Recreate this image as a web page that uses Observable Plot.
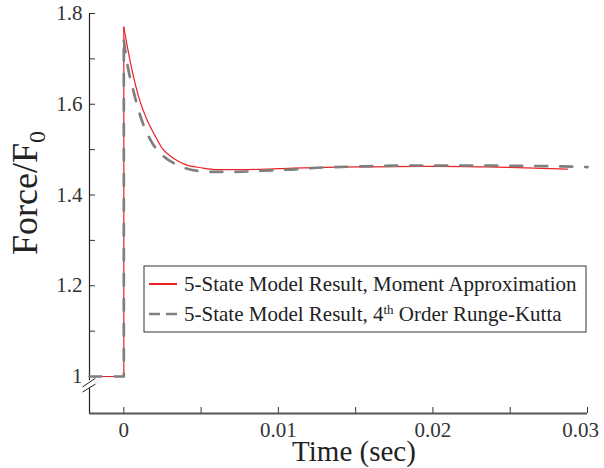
<!DOCTYPE html>
<html><head><meta charset="utf-8">
<script src="https://cdn.jsdelivr.net/npm/d3@7"></script>
<script src="https://cdn.jsdelivr.net/npm/@observablehq/plot@0.6"></script>
<style>body{margin:0;background:#fff;}</style>
</head><body><div id="chart"></div>
<script>
// ---- data ----
const stepT = [-0.00222, 0, 0];
const redStepV = [1, 1, 1.770];
const grayStepV = [1, 1, 1.741];
const redT = [0, 0.0005, 0.001, 0.0015, 0.002, 0.0025, 0.003, 0.0035, 0.004, 0.005, 0.006, 0.008, 0.010, 0.013, 0.016, 0.020, 0.023, 0.026, 0.0287];
const redV = [1.770, 1.680, 1.612, 1.566, 1.532, 1.502, 1.486, 1.475, 1.467, 1.460, 1.456, 1.456, 1.458, 1.461, 1.462, 1.463, 1.462, 1.460, 1.457];
const grayT = [0, 0.00022, 0.00061, 0.00108, 0.00173, 0.00259, 0.0033, 0.0041, 0.0056, 0.0073, 0.0089, 0.0106, 0.0121, 0.0153, 0.0186, 0.0218, 0.0250, 0.0283, 0.0300];
const grayV = [1.741, 1.690, 1.631, 1.573, 1.521, 1.485, 1.469, 1.458, 1.451, 1.451, 1.4535, 1.4557, 1.4594, 1.463, 1.465, 1.465, 1.4645, 1.463, 1.4616];
const xTicks = [0, 0.005, 0.01, 0.015, 0.02, 0.025, 0.03];
const xLabelTicks = [0, 0.01, 0.02];
const xLabelTexts = ["0", "0.01", "0.02"];
const xLastTick = [0.03];
const xLastText = ["0.03"];
const yTicks = [1, 1.1, 1.2, 1.3, 1.4, 1.5, 1.6, 1.7, 1.8];
const yLabelTicks = [1, 1.2, 1.4, 1.6, 1.8];
const yLabelTexts = ["1", "1.2", "1.4", "1.6", "1.8"];
const xDomain = [-0.00222, 0.03];
const yDomain = [0.9185, 1.8];
const axisBreakValue = 0.98;
const seriesNames = ["5-State Model Result, Moment Approximation", "5-State Model Result, 4", "th", " Order Runge-Kutta"];
const seriesColors = ["#ee2024", "#7f7f7f"];
const xLabel = "Time (sec)";
const yLabel = "Force/F";
const yLabelSub = "0";

const rows = (ts, vs) => ts.map((t, i) => ({t, v: vs[i]}));
const FONT = "Liberation Serif, Times New Roman, serif";
const W = 604, H = 468, ML = 89, MR = 17, MT = 13, MB = 55;
const TICK = 6;

const plot = Plot.plot({
  width: W, height: H,
  marginLeft: ML, marginRight: MR, marginTop: MT, marginBottom: MB,
  x: {domain: xDomain},
  y: {domain: yDomain},
  style: {fontFamily: FONT, background: "white", color: "#222"},
  marks: [
    // inward ticks
    Plot.tickX(xTicks, {x: d => d, stroke: "#333", strokeWidth: 1, insetTop: H - MT - MB - TICK}),
    Plot.tickY(yTicks, {y: d => d, stroke: "#333", strokeWidth: 1, insetRight: W - ML - MR - TICK}),
    // tick labels
    Plot.axisX(xLabelTicks, {tickSize: 0, tickPadding: 9, tickFormat: (d, i) => xLabelTexts[i], label: null, fontSize: 21, fill: "#333"}),
    Plot.axisX(xLastTick, {tickSize: 0, tickPadding: 9, tickFormat: (d, i) => xLastText[i], label: null, fontSize: 21, fill: "#333", dx: -7}),
    Plot.axisY(yLabelTicks, {tickSize: 0, tickPadding: 7, tickFormat: (d, i) => yLabelTexts[i], label: null, fontSize: 21, fill: "#333"}),
    // axis lines
    Plot.ruleX([xDomain[0]], {stroke: "#222", strokeWidth: 1.2}),
    Plot.ruleY([yDomain[0]], {stroke: "#555", strokeWidth: 2}),
    // series
    Plot.line(rows(stepT, redStepV), {x: "t", y: "v", stroke: seriesColors[0], strokeWidth: 1.2}),
    Plot.line(rows(redT, redV), {x: "t", y: "v", stroke: seriesColors[0], strokeWidth: 1.2, curve: "monotone-x"}),
    Plot.line(rows(stepT, grayStepV), {x: "t", y: "v", stroke: seriesColors[1], strokeWidth: 2.7, strokeDasharray: "12,13"}),
    Plot.line(rows(grayT, grayV), {x: "t", y: "v", stroke: seriesColors[1], strokeWidth: 2.7, strokeDasharray: "12,13", curve: "monotone-x"})
  ]
});

const svg = d3.select(plot);
const xs = plot.scale("x"), ys = plot.scale("y");
const x0 = xs.range[0];

// axis break
const cb = ys.apply(axisBreakValue);
svg.append("rect").attr("x", x0 - 3).attr("y", cb - 5).attr("width", 6).attr("height", 8).attr("fill", "white");
svg.append("line").attr("x1", x0 - 6.5).attr("y1", cb + 7).attr("x2", x0 + 6.5).attr("y2", cb - 1).attr("stroke", "#222").attr("stroke-width", 1);
svg.append("line").attr("x1", x0 - 6.5).attr("y1", cb + 2).attr("x2", x0 + 6.5).attr("y2", cb - 7).attr("stroke", "#222").attr("stroke-width", 1);

// axis titles
svg.append("text").attr("x", 354).attr("y", 461).attr("text-anchor", "middle")
  .attr("font-family", FONT).attr("font-size", 29).attr("fill", "#222").text(xLabel);
const yl = svg.append("text").attr("transform", "translate(37,193) rotate(-90)").attr("text-anchor", "middle")
  .attr("font-family", FONT).attr("font-size", 36).attr("fill", "#222");
yl.append("tspan").text(yLabel);
yl.append("tspan").attr("font-size", 24).attr("dy", 8).text(yLabelSub);

// legend
const lg = svg.append("g").attr("font-family", FONT).attr("font-size", 21).attr("fill", "#222").attr("text-anchor", "start");
lg.append("rect").attr("x", 144).attr("y", 266).attr("width", 442).attr("height", 66).attr("fill", "white").attr("stroke", "#333").attr("stroke-width", 1);
lg.append("line").attr("x1", 149).attr("x2", 177).attr("y1", 284).attr("y2", 284).attr("stroke", seriesColors[0]).attr("stroke-width", 2);
lg.append("line").attr("x1", 149).attr("x2", 177).attr("y1", 314).attr("y2", 314).attr("stroke", seriesColors[1]).attr("stroke-width", 2.7).attr("stroke-dasharray", "11,6");
lg.append("text").attr("x", 184).attr("y", 284).attr("dy", "0.33em").attr("text-anchor", "start").text(seriesNames[0]);
const t2 = lg.append("text").attr("x", 184).attr("y", 314).attr("dy", "0.33em").attr("text-anchor", "start");
t2.append("tspan").text(seriesNames[1]);
t2.append("tspan").attr("font-size", 13).attr("dy", -7).text(seriesNames[2]);
t2.append("tspan").attr("dy", 7).text(seriesNames[3]);

document.getElementById("chart").appendChild(plot);
</script>
</body></html>
